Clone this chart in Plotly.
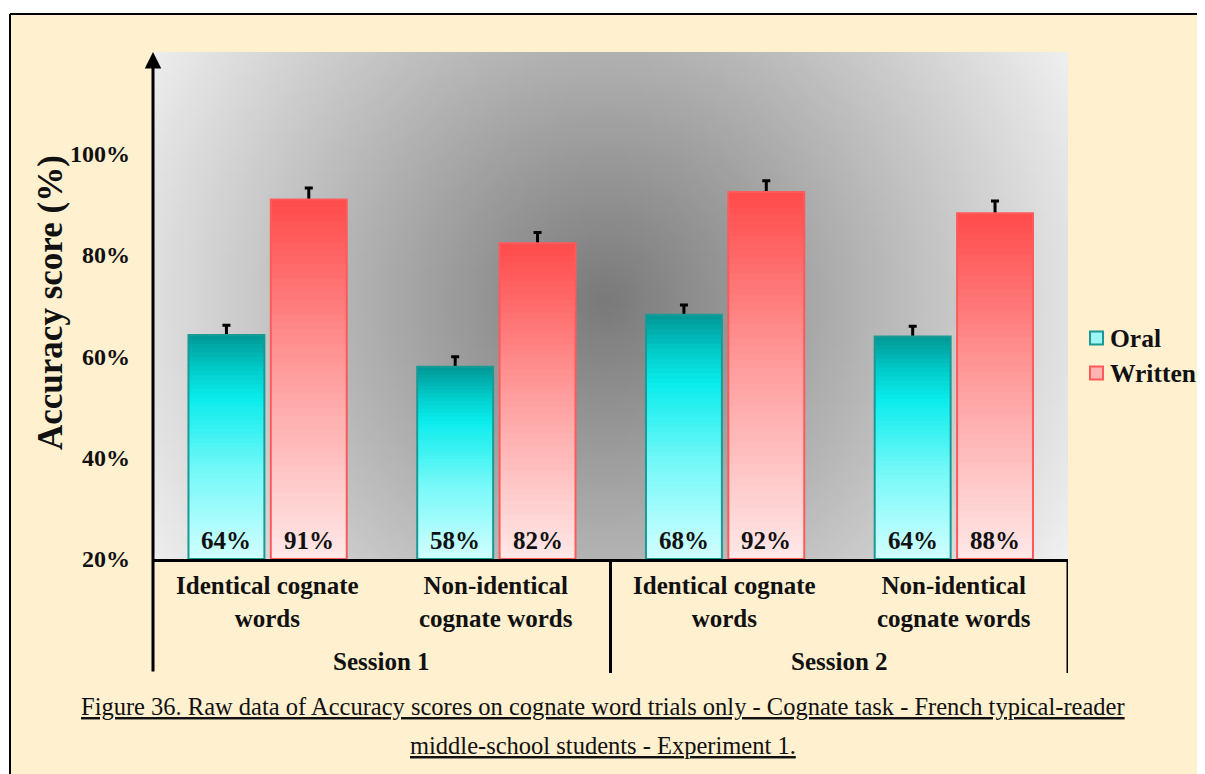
import base64
import struct
import zlib

import plotly.graph_objects as go

# ---------------- data ----------------
categories = ["S1 Identical", "S1 Non-identical", "S2 Identical", "S2 Non-identical"]
word_type_labels = ["Identical cognate<br>words", "Non-identical<br>cognate words",
                    "Identical cognate<br>words", "Non-identical<br>cognate words"]
session_labels = ["Session 1", "Session 2"]
series_names = ["Oral", "Written"]
oral = [64.2, 57.9, 68.2, 63.9]
written = [90.9, 82.3, 92.4, 88.2]
oral_err = [1.9, 2.0, 1.9, 2.0]
written_err = [2.3, 2.1, 2.2, 2.4]
y_ticks = [20, 40, 60, 80, 100]
y_tick_labels = ["20%", "40%", "60%", "80%", "100%"]
caption_lines = [
    "Figure 36. Raw data of Accuracy scores on cognate word trials only - Cognate task - French typical-reader",
    "middle-school students - Experiment 1.",
]

# ---------------- layout geometry (screen pixels) ----------------
SW, SH = 1205, 774
OFF = 8  # page body margin
W, H = SW - 2 * OFF, SH - OFF
L, R, T, B = 153, 1068, 52, 559
PW, PH = R - L, B - T
FONT = "Liberation Serif, Times New Roman, serif"
Y0 = 20  # axis base


def px2px(x):
    return (x - L) / PW


def py2py(y):
    return (B - y) / PH


# ---------------- radial grey background image ----------------
def make_png(width, height, fn):
    raw = b""
    for j in range(height):
        row = bytearray([0])
        for i in range(width):
            row.append(fn(i, j))
        raw += bytes(row)

    def chunk(tag, data):
        c = struct.pack(">I", len(data)) + tag + data
        return c + struct.pack(">I", zlib.crc32(tag + data) & 0xffffffff)

    png = b"\x89PNG\r\n\x1a\n"
    png += chunk(b"IHDR", struct.pack(">IIBBBBB", width, height, 8, 0, 0, 0, 0))
    png += chunk(b"IDAT", zlib.compress(raw, 9))
    png += chunk(b"IEND", b"")
    return "data:image/png;base64," + base64.b64encode(png).decode()


IW, IH = 183, 101
CX, CY = 605, 300


def grey(i, j):
    sx = L + (i + 0.5) * PW / IW
    sy = T + (j + 0.5) * PH / IH
    d = ((sx - CX) ** 2 + (sy - CY) ** 2) ** 0.5
    return int(min(245, 122 + 0.225 * d))


bg_src = make_png(IW, IH, grey)


# ---------------- gradients ----------------
def lerp(stops, t):
    for (t0, c0), (t1, c1) in zip(stops, stops[1:]):
        if t <= t1:
            f = (t - t0) / (t1 - t0) if t1 > t0 else 0
            return "rgb(%d,%d,%d)" % tuple(round(a + (b - a) * f) for a, b in zip(c0, c1))
    return "rgb(%d,%d,%d)" % stops[-1][1]


oral_stops = [(0.0, (210, 255, 255)), (0.4, (115, 248, 248)), (0.72, (10, 236, 236)),
              (0.86, (0, 200, 198)), (1.0, (0, 150, 148))]
written_stops = [(0.0, (255, 232, 232)), (0.5, (255, 160, 160)), (1.0, (255, 74, 74))]
edge_colors = {"Oral": "#1A9A94", "Written": "#FF5A5A"}
swatch_colors = {"Oral": "#9FF6F6", "Written": "#FFB3B3"}

BAR_W = 0.332
OFFS = {"Oral": -0.345, "Written": 0.015}
N = 50
HIDE = 0.4  # lower error-bar cap tucked under the bar top

series = [("Oral", oral, oral_err, oral_stops), ("Written", written, written_err, written_stops)]

fig = go.Figure()

# error bars first so the bars cover the lower cap
for name, vals, errs, _ in series:
    fig.add_trace(go.Bar(
        x=categories, base=Y0, y=[v - Y0 - HIDE for v in vals],
        offset=OFFS[name], width=BAR_W,
        marker=dict(color="rgba(0,0,0,0)", line=dict(width=0)),
        error_y=dict(type="data", symmetric=False, array=[e + HIDE for e in errs],
                     arrayminus=[0] * len(errs), color="black", thickness=3, width=4),
        showlegend=False, hoverinfo="skip",
    ))

# gradient-filled bars (stacked overlapping slices)
for name, vals, _, stops in series:
    for k in range(N):
        t = k / N
        fig.add_trace(go.Bar(
            x=categories,
            base=[Y0 + (v - Y0) * t for v in vals],
            y=[(v - Y0) * (1 - t) for v in vals],
            offset=OFFS[name], width=BAR_W,
            marker=dict(color=lerp(stops, (k + 0.5) / N), line=dict(width=0)),
            showlegend=False, hoverinfo="skip",
        ))

# outlines
for name, vals, _, _ in series:
    fig.add_trace(go.Bar(
        x=categories, base=Y0, y=[v - Y0 for v in vals], name=name,
        offset=OFFS[name], width=BAR_W,
        marker=dict(color="rgba(0,0,0,0)", line=dict(color=edge_colors[name], width=2)),
        showlegend=False, hovertemplate="%{x}: %{y}<extra>" + name + "</extra>",
    ))

TXT = "#111"
annotations = []
# value labels inside bars
for name, vals, _, _ in series:
    for i, v in enumerate(vals):
        annotations.append(dict(
            x=i + OFFS[name] + BAR_W / 2, y=Y0, xref="x", yref="y",
            text="<b>%.0f%%</b>" % v, showarrow=False, yanchor="middle", yshift=19,
            font=dict(family=FONT, size=25, color=TXT)))

# category labels
for i, lab in enumerate(word_type_labels):
    annotations.append(dict(
        x=i, y=py2py(602), xref="x", yref="paper", text="<b>%s</b>" % lab,
        showarrow=False, yanchor="middle", align="center",
        font=dict(family=FONT, size=25, color=TXT)))
for s, lab in enumerate(session_labels):
    annotations.append(dict(
        x=2 * s + 0.5, y=py2py(661), xref="x", yref="paper", text="<b>%s</b>" % lab,
        showarrow=False, yanchor="middle",
        font=dict(family=FONT, size=25, color=TXT)))

# y axis title
annotations.append(dict(
    x=px2px(50), y=py2py(303), xref="paper", yref="paper",
    text="<b>Accuracy score (%)</b>", textangle=-90, showarrow=False,
    xanchor="center", yanchor="middle",
    font=dict(family=FONT, size=35, color=TXT)))

# y axis arrow
annotations.append(dict(
    x=0, y=1, xref="paper", yref="paper", text="", showarrow=True,
    axref="pixel", ayref="pixel", ax=0, ay=673 - T,
    arrowhead=2, arrowsize=1.1, arrowwidth=3, arrowcolor="black", standoff=0))

# caption
for k, line in enumerate(caption_lines):
    annotations.append(dict(
        x=px2px(603), y=py2py([706, 745][k]), xref="paper", yref="paper",
        text="<u>%s</u>" % line, showarrow=False, xanchor="center", yanchor="middle",
        font=dict(family=FONT, size=24.5, color=TXT)))

shapes = [
    # white margin strips and outer border
    dict(type="rect", xref="paper", yref="paper", x0=px2px(-20), x1=px2px(SW + 20),
         y0=py2py(14), y1=py2py(-20), fillcolor="white", line=dict(width=0), layer="below"),
    dict(type="rect", xref="paper", yref="paper", x0=px2px(-20), x1=px2px(10),
         y0=py2py(SH + 20), y1=py2py(-20), fillcolor="white", line=dict(width=0), layer="below"),
    dict(type="line", xref="paper", yref="paper", x0=px2px(10), x1=px2px(SW + 20),
         y0=py2py(14), y1=py2py(14), line=dict(color="black", width=2)),
    dict(type="line", xref="paper", yref="paper", x0=px2px(10), x1=px2px(10),
         y0=py2py(14), y1=py2py(SH + 20), line=dict(color="black", width=2)),
    # category separators
    dict(type="line", xref="x", yref="paper", x0=1.5, x1=1.5, y0=0, y1=py2py(673),
         line=dict(color="black", width=3)),
    dict(type="line", xref="x", yref="paper", x0=3.5, x1=3.5, y0=0, y1=py2py(673),
         line=dict(color="black", width=3)),
]

# legend (swatch + label) placed to the right of the plot
for j, name in enumerate(series_names):
    cy = [338, 373][j]
    shapes.append(dict(type="rect", xref="paper", yref="paper",
                       x0=px2px(1090), x1=px2px(1103), y0=py2py(cy + 6.5), y1=py2py(cy - 6.5),
                       fillcolor=swatch_colors[name],
                       line=dict(color=edge_colors[name], width=2)))
    annotations.append(dict(
        x=px2px(1108), y=py2py(cy), xref="paper", yref="paper", text="<b>%s</b>" % name,
        showarrow=False, xanchor="left", yanchor="middle",
        font=dict(family=FONT, size=25.5, color=TXT)))

fig.update_layout(
    width=W, height=H, autosize=False,
    margin=dict(l=L - OFF, r=OFF + W - R, t=T - OFF, b=SH - B),
    paper_bgcolor="#FFF0CF", plot_bgcolor="#BBBBBB",
    barmode="overlay",
    showlegend=False,
    xaxis=dict(type="category", categoryarray=categories, range=[-0.5, 3.5],
               showticklabels=False, ticks="", showgrid=False, zeroline=False,
               showline=True, linewidth=3, linecolor="black", fixedrange=True),
    yaxis=dict(range=[20, 120], tickvals=y_ticks, ticktext=y_tick_labels, showgrid=False,
               zeroline=False, showline=False, ticks="", ticklabelstandoff=22,
               tickfont=dict(family=FONT, size=24, color=TXT, weight="bold")),
    images=[dict(source=bg_src, xref="paper", yref="paper", x=0, y=1, sizex=1, sizey=1,
                 xanchor="left", yanchor="top", sizing="stretch", layer="below")],
    annotations=annotations,
    shapes=shapes,
)

fig.write_html("out.html", config={"responsive": False})
